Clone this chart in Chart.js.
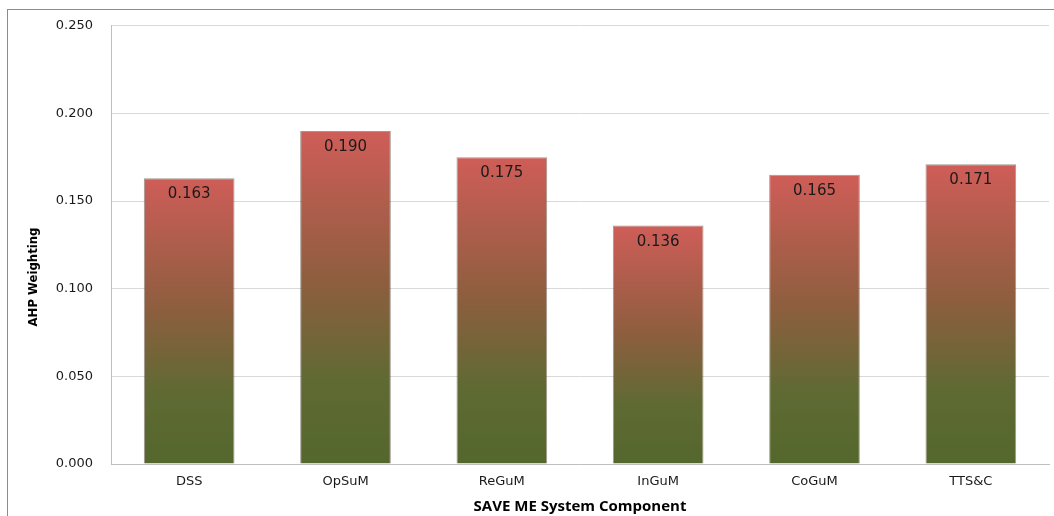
<!DOCTYPE html>
<html>
<head>
<meta charset="utf-8">
<title>AHP Weighting</title>
<script src="https://cdn.jsdelivr.net/npm/chart.js"></script>
<style>
    html, body { margin: 0; padding: 0; background: #fff; overflow: hidden; }
    #frame { position: absolute; left: 7px; top: 9px; width: 1100px; height: 600px;
             border-left: 1px solid #8c8c8c; border-top: 1px solid #8c8c8c; }
    #wrap { position: absolute; left: 0; top: 0; width: 1054px; height: 516px; }
</style>
</head>
<body>
<div id="frame"></div>
<div id="wrap"><canvas id="ahpChart"></canvas></div>
<script>
const components = ['DSS', 'OpSuM', 'ReGuM', 'InGuM', 'CoGuM', 'TTS&C'];
const weights = [0.163, 0.190, 0.175, 0.136, 0.165, 0.171];
const yTicks = [0.000, 0.050, 0.100, 0.150, 0.200, 0.250];

const xTitle = 'SAVE ME System Component';
const yTitle = 'AHP Weighting';

function barGradient(context) {
    const chart = context.chart;
    const yScale = chart.scales.y;
    if (!chart.chartArea || !yScale || context.raw === undefined) return '#8c5e3e';
    const top = yScale.getPixelForValue(context.raw);
    const bottom = yScale.getPixelForValue(0);
    if (!isFinite(top) || !isFinite(bottom) || bottom - top < 1) return '#8c5e3e';
    const g = chart.ctx.createLinearGradient(0, top, 0, bottom);
    g.addColorStop(0, '#cf5d58');
    g.addColorStop(0.45, '#8e5e3f');
    g.addColorStop(0.75, '#5f6a33');
    g.addColorStop(1, '#54672c');
    return g;
}

// value printed inside the top of each bar
const valueLabels = {
    id: 'valueLabels',
    afterDatasetsDraw(chart) {
        const ctx = chart.ctx;
        const meta = chart.getDatasetMeta(0);
        ctx.save();
        ctx.font = '15px "DejaVu Sans"';
        ctx.fillStyle = '#1a1a1a';
        ctx.textAlign = 'center';
        ctx.textBaseline = 'middle';
        meta.data.forEach((bar, i) => {
            ctx.fillText(weights[i].toFixed(3), bar.x, bar.y + 16);
        });
        ctx.restore();
    }
};

// rotated y title, placed like the original
const yTitlePlugin = {
    id: 'yTitlePlugin',
    afterDraw(chart) {
        const ctx = chart.ctx;
        ctx.save();
        ctx.translate(34, 277);
        ctx.rotate(-Math.PI / 2);
        ctx.font = 'bold 13px "DejaVu Sans Condensed"';
        ctx.fillStyle = '#000';
        ctx.textAlign = 'center';
        ctx.textBaseline = 'middle';
        ctx.fillText(yTitle, 0, 0);
        ctx.restore();
    }
};

const ctx = document.getElementById('ahpChart').getContext('2d');
new Chart(ctx, {
    type: 'bar',
    data: {
        labels: components,
        datasets: [{
            label: yTitle,
            data: weights,
            backgroundColor: barGradient,
            borderColor: 'rgba(70, 45, 30, 0.5)',
            borderWidth: 1,
            borderSkipped: 'bottom',
            barPercentage: 0.58,
            categoryPercentage: 1.0
        }]
    },
    options: {
        responsive: true,
        maintainAspectRatio: false,
        animation: false,
        layout: { padding: { top: 18, right: 5, left: 0, bottom: 0 } },
        plugins: {
            legend: { display: false },
            tooltip: { enabled: false }
        },
        scales: {
            x: {
                grid: { display: false, drawTicks: false },
                border: { display: true, color: '#bfbfbf', width: 1 },
                ticks: {
                    color: '#1a1a1a',
                    font: { family: 'DejaVu Sans', size: 13 },
                    padding: 10
                },
                title: {
                    display: true,
                    text: xTitle,
                    color: '#000',
                    font: { family: 'Open Sans', size: 15, weight: 'bold' },
                    padding: { top: 2, bottom: 0 }
                },
                afterFit(scale) { scale.height = 52; }
            },
            y: {
                min: 0,
                max: 0.25,
                afterBuildTicks(scale) { scale.ticks = yTicks.map(v => ({ value: v })); },
                grid: { color: '#d9d9d9', drawTicks: false },
                border: { display: true, color: '#bfbfbf', width: 1 },
                ticks: {
                    color: '#1a1a1a',
                    font: { family: 'DejaVu Sans', size: 13 },
                    padding: 18,
                    callback: v => Number(v).toFixed(3)
                },
                afterFit(scale) { scale.width = 111; }
            }
        }
    },
    plugins: [valueLabels, yTitlePlugin]
});
</script>
</body>
</html>
